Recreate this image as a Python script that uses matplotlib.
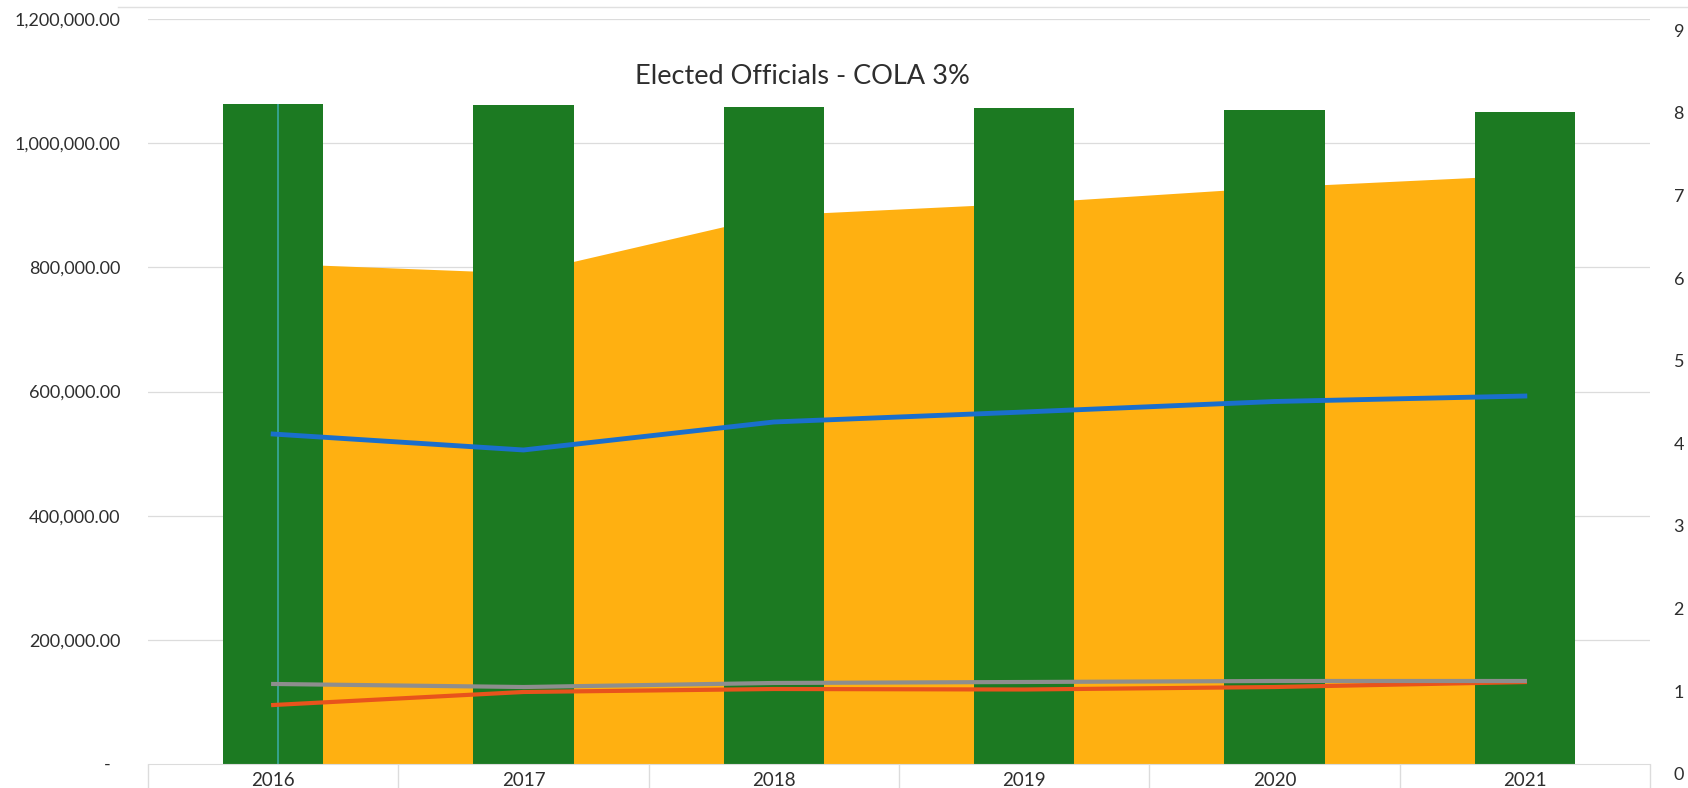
import matplotlib
matplotlib.use("Agg")
import matplotlib.pyplot as plt
from matplotlib.lines import Line2D

plt.rcParams['font.family'] = ['Lato', 'DejaVu Sans']

# yearly figures for the elected officials budget
years = ['2016', '2017', '2018', '2019', '2020', '2021']
bar_totals = [1063000, 1060700, 1058900, 1057300, 1053400, 1050200]
area_totals = [806500, 790900, 884300, 903600, 929400, 948700]
blue_series = [531500, 505800, 550900, 567000, 583900, 592700]
gray_series = [128900, 124000, 130500, 132100, 133700, 133700]
red_series = [95000, 116000, 120800, 120000, 124000, 132000]

left_ticks = [0, 200000, 400000, 600000, 800000, 1000000, 1200000]
right_ticks = list(range(0, 10))

green = '#1c7a22'
orange = '#ffb011'
blue = '#1a6fcc'
gray = '#8e8e8e'
red = '#e8531c'
text_color = '#2e2e2e'

W, H = 1688, 788
fig = plt.figure(figsize=(W / 100, H / 100), dpi=100)
ax = fig.add_axes([148 / W, 1 - 764 / H, (1650 - 148) / W, (764 - 19) / H])

x = list(range(len(years)))

# light horizontal gridlines behind everything
for v in left_ticks[1:]:
    ax.axhline(v, color='#dcdcdc', linewidth=0.9, zorder=0)

ax.fill_between(x, 0, area_totals, color=orange, linewidth=0, zorder=1)
ax.bar(x, bar_totals, width=0.4, color=green, zorder=2)
ax.vlines(x[0] + 0.02, 0, bar_totals[0], color='#3aa8a0', linewidth=1.2, zorder=2.5)

ax.plot(x, red_series, color=red, linewidth=3, zorder=3)
ax.plot(x, gray_series, color=gray, linewidth=3, zorder=3.5)
ax.plot(x, blue_series, color=blue, linewidth=3.5, zorder=4)

ax.set_xlim(-0.5, len(years) - 0.5)
ax.set_ylim(0, 1200000)

ax.set_xticks(x)
ax.set_xticklabels(years)
ax.set_xticks([i - 0.5 for i in range(len(years) + 1)], minor=True)
ax.tick_params(axis='x', which='major', length=0, pad=6, labelsize=13.5, labelcolor=text_color)
ax.tick_params(axis='x', which='minor', length=18, color='#dcdcdc', width=1)

ax.set_yticks(left_ticks)
ax.set_yticklabels(['-  '] + ['{:,.2f}'.format(v) for v in left_ticks[1:]])
ax.tick_params(axis='y', length=0, pad=20, labelsize=13, labelcolor=text_color)

for side in ['left', 'right', 'top']:
    ax.spines[side].set_visible(False)
ax.spines['bottom'].set_color('#dcdcdc')

# secondary scale 0-9 on the right, sitting a little lower than the main one
ax2 = fig.add_axes([148 / W, 1 - 774 / H, (1650 - 148) / W, (774 - 30) / H])
ax2.patch.set_visible(False)
ax2.set_ylim(0, 9)
ax2.set_xticks([])
ax2.yaxis.tick_right()
ax2.set_yticks(right_ticks)
ax2.tick_params(axis='y', length=0, pad=17, labelsize=13, labelcolor=text_color)
for side in ['left', 'right', 'top', 'bottom']:
    ax2.spines[side].set_visible(False)

fig.text(802 / W, 1 - 77 / H, 'Elected Officials - COLA 3%', ha='center', va='center',
         fontsize=19.5, color=text_color)

# faint frame edge along the top
fig.add_artist(Line2D([0.07, 1.0], [1 - 7 / H, 1 - 7 / H], color='#e0e0e0', linewidth=1))

fig.savefig('out.png', dpi=100)
